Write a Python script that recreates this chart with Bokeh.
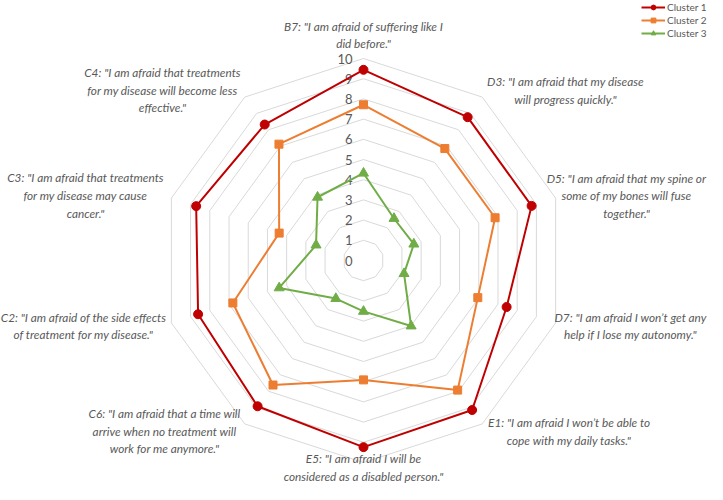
import numpy as np
from bokeh.plotting import figure
from bokeh.models import Range1d, Legend, LegendItem
from bokeh.core.properties import value
from bokeh.embed import file_html
from bokeh.resources import INLINE

# ---------------- data ----------------
categories = ["B7", "D3", "D5", "D7", "E1", "E5", "C6", "C2", "C3", "C4"]
category_labels = [
    "B7: \"I am afraid of suffering like I\ndid before.\"",
    "D3: \"I am afraid that my disease\nwill progress quickly.\"",
    "D5: \"I am afraid that my spine or\nsome of my bones will fuse\ntogether.\"",
    "D7: \"I am afraid I won\u2019t get any\nhelp if I lose my autonomy.\"",
    "E1: \"I am afraid I won\u2019t be able to\ncope with my daily tasks.\"",
    "E5: \"I am afraid I will be\nconsidered as a disabled person.\"",
    "C6: \"I am afraid that a time will\narrive when no treatment will\nwork for me anymore.\"",
    "C2: \"I am afraid of the side effects\nof treatment for my disease.\"",
    "C3: \"I am afraid that treatments\nfor my disease may cause\ncancer.\"",
    "C4: \"I am afraid that treatments\nfor my disease will become less\neffective.\"",
]
cluster1 = [9.44, 8.77, 8.75, 7.45, 9.15, 9.24, 8.92, 8.61, 8.71, 8.32]
cluster2 = [7.71, 6.85, 6.85, 5.95, 7.93, 5.91, 7.62, 6.80, 4.39, 7.12]
cluster3 = [4.32, 2.57, 2.62, 2.11, 4.01, 2.52, 2.33, 4.39, 2.47, 3.87]
series_names = ["Cluster 1", "Cluster 2", "Cluster 3"]
ticks = list(range(0, 11))

# ---------------- layout ----------------
W, H = 707, 484
PX = 20.2            # pixels per value unit
CX, CY = 363, 260    # centre in figure pixels


def px_to_data(xi, yi):
    return (xi - CX) / PX, (CY - yi) / PX


# label block centres (figure pixels)
label_pos_px = [
    (363, 34.5), (565, 89.8), (626, 195.3), (630, 325.5), (568.7, 431),
    (363, 467), (164, 430.7), (83, 325.5), (85, 195), (162, 89.7),
]

colors = ["#c00000", "#ed7d31", "#70ad47"]
markers = ["circle", "square", "triangle"]
msizes = [9, 8, 10]
grid_color = "#d9d9d9"
text_color = "#595959"

n = len(categories)
theta = np.pi / 2 - 2 * np.pi * np.arange(n) / n
ct, st = np.cos(theta), np.sin(theta)

x0, y0 = px_to_data(0, 0)
x1, y1 = px_to_data(W, H)

p = figure(width=W, height=H, output_backend="svg", toolbar_location=None,
           x_range=Range1d(x0, x1), y_range=Range1d(y1, y0),
           min_border=0)
p.axis.visible = False
p.grid.visible = False
p.outline_line_color = None
p.background_fill_color = "white"

# grid decagons
gx, gy = [], []
for r in ticks[1:]:
    gx.append(list(r * ct) + [r * ct[0]])
    gy.append(list(r * st) + [r * st[0]])
p.multi_line(gx, gy, line_color=grid_color, line_width=1)

# value labels
p.text(x=[0] * len(ticks), y=ticks, text=[str(t) for t in ticks],
       x_offset=-11, text_align="right", text_baseline="middle",
       text_font=value("Lato"), text_font_size="13px", text_color=text_color)

# category labels
lx, ly = zip(*[px_to_data(a, b) for a, b in label_pos_px])
p.text(x=list(lx), y=list(ly), text=category_labels,
       text_align="center", text_baseline="middle",
       text_font=value("Lato"), text_font_style="italic",
       text_font_size="11.8px", text_color=text_color, text_line_height=1.17)

# series
items = []
for vals, name, col, mk, ms in zip([cluster1, cluster2, cluster3], series_names,
                                   colors, markers, msizes):
    v = np.array(vals)
    xs = list(v * ct) + [v[0] * ct[0]]
    ys = list(v * st) + [v[0] * st[0]]
    lr = p.line(xs, ys, line_color=col, line_width=2)
    sr = p.scatter(list(v * ct), list(v * st), marker=mk, size=ms,
                   fill_color=col, line_color=col)
    items.append(LegendItem(label=name, renderers=[lr, sr]))

legend = Legend(items=items, location=(641, H - 39), glyph_width=24,
                glyph_height=12, label_height=12, spacing=1, padding=0,
                margin=0, label_standoff=2, label_text_font="Lato",
                label_text_font_size="10px", label_text_color=text_color,
                border_line_alpha=0, background_fill_alpha=0)
p.add_layout(legend)

open("out.html", "w").write(file_html(p, INLINE))
